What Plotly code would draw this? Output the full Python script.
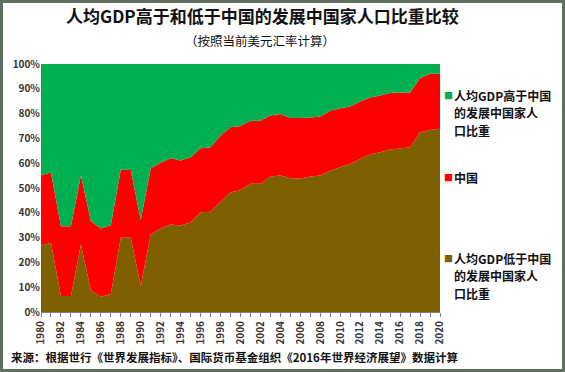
import plotly.graph_objects as go

years = list(range(1980, 2021))
below_share = [26.7, 27.9, 6.5, 6.5, 27.2, 8.8, 6.1, 7.3, 29.9, 29.9,
               10.5, 31.3, 33.7, 35.3, 34.9, 36.1, 40.2, 40.4, 44.5, 48.2,
               49.2, 51.7, 51.7, 54.6, 55.0, 53.9, 53.8, 54.6, 55.0, 57.0,
               58.4, 59.7, 61.7, 63.6, 64.4, 65.5, 65.9, 66.4, 72.4, 73.4, 73.9]
china_share = [28.4, 28.3, 28.1, 28.1, 27.9, 27.9, 27.6, 27.7, 27.6, 27.4,
               26.6, 26.7, 26.5, 26.7, 26.2, 26.3, 25.8, 26.0, 26.7, 26.3,
               25.8, 25.4, 25.4, 24.6, 24.8, 24.3, 24.4, 23.8, 23.8, 24.1,
               23.8, 23.2, 23.2, 22.9, 22.9, 22.8, 22.6, 22.1, 21.9, 22.7, 22.2]
above_share = [44.9, 43.8, 65.4, 65.4, 44.9, 63.3, 66.3, 65.0, 42.5, 42.7,
               62.9, 42.0, 39.8, 38.0, 38.9, 37.6, 34.0, 33.6, 28.8, 25.5,
               25.0, 22.9, 22.9, 20.8, 20.2, 21.8, 21.8, 21.6, 21.2, 18.9,
               17.8, 17.1, 15.1, 13.5, 12.7, 11.7, 11.5, 11.5, 5.7, 3.9, 3.9]

series_names = ["人均GDP低于中国的发展中国家人口比重", "中国", "人均GDP高于中国的发展中国家人口比重"]
legend_lines = [["人均GDP低于中国", "的发展中国家人", "口比重"], ["中国"],
                ["人均GDP高于中国", "的发展中国家人", "口比重"]]
colors = ["#7F6000", "#FF0000", "#00B050"]
x_ticks = list(range(1980, 2021, 2))
y_ticks = list(range(0, 101, 10))

FONT = "Noto Sans CJK SC"
W, H = 565, 372
L, R, T, B = 41, 125, 64, 60
pw, ph = W - L - R, H - T - B


def px(x):
    return (x - L) / pw


def py(y):
    return (H - B - y) / ph


fig = go.Figure()
for vals, nm, col in zip([below_share, china_share, above_share], series_names, colors):
    fig.add_trace(go.Scatter(x=years, y=vals, name=nm, stackgroup="one", mode="none",
                             fillcolor=col, line=dict(width=0), showlegend=False))

fig.update_layout(
    width=W, height=H,
    margin=dict(l=L, r=R, t=T, b=B, autoexpand=False),
    paper_bgcolor="white", plot_bgcolor="white",
    font=dict(family=FONT, color="#1a1a1a"),
    xaxis=dict(range=[1980, 2020], tickvals=x_ticks, ticktext=[str(v) for v in x_ticks],
               tickangle=-90, ticks="outside", ticklen=4, tickcolor="#808080", automargin=False,
               tickfont=dict(size=10, family=FONT, weight="bold", color="#333"),
               minor=dict(dtick=1, ticks="outside", ticklen=4, tickcolor="#808080"),
               showgrid=False, zeroline=False, showline=True, linecolor="#808080"),
    yaxis=dict(range=[0, 100], tickmode="array", tickvals=y_ticks,
               ticktext=[f"{v}%" for v in y_ticks], ticks="", automargin=False,
               tickfont=dict(size=10, family=FONT, weight="bold", color="#333"),
               showgrid=False, zeroline=False, showline=False),
)

# title & subtitle
fig.add_annotation(text="<b>人均GDP高于和低于中国的发展中国家人口比重比较</b>", xref="paper", yref="paper",
                   x=px(262), y=py(16), showarrow=False,
                   font=dict(size=17, family=FONT, color="#111"), xanchor="center", yanchor="middle")
fig.add_annotation(text="（按照当前美元汇率计算）", xref="paper", yref="paper",
                   x=px(260), y=py(40), showarrow=False,
                   font=dict(size=12.5, family=FONT, color="#111"), xanchor="center", yanchor="middle")
# source
fig.add_annotation(text="<b>来源：根据世行《世界发展指标》、国际货币基金组织《2016年世界经济展望》数据计算</b>",
                   xref="paper", yref="paper", x=px(9), y=py(357), showarrow=False,
                   font=dict(size=11.5, family=FONT, color="#111"), xanchor="left", yanchor="middle")

# legend drawn as annotations (top to bottom: above, China, below)
leg_y = [95, 177, 258]
for yy, lines, col in zip(leg_y, legend_lines[::-1], colors[::-1]):
    fig.add_annotation(text="■", xref="paper", yref="paper", x=px(448), y=py(yy),
                       showarrow=False, font=dict(size=9, color=col), xanchor="center", yanchor="middle")
    for i, ln in enumerate(lines):
        fig.add_annotation(text="<b>" + ln + "</b>", xref="paper", yref="paper", x=px(453),
                           y=py(yy + i * 17.8), showarrow=False, align="left", borderpad=0,
                           font=dict(size=12, family=FONT, color="#111"),
                           xanchor="left", yanchor="middle")

# outer frame
fig.add_shape(type="rect", xref="paper", yref="paper",
              x0=px(1.5), x1=px(W - 1.5), y0=py(H - 1.5), y1=py(1.5),
              line=dict(color="#5F7060", width=3), fillcolor="rgba(0,0,0,0)", layer="above")

fig.write_html("out.html", config={"displayModeBar": False},
               post_script="document.body.style.margin='0';document.body.style.overflow='hidden';")
